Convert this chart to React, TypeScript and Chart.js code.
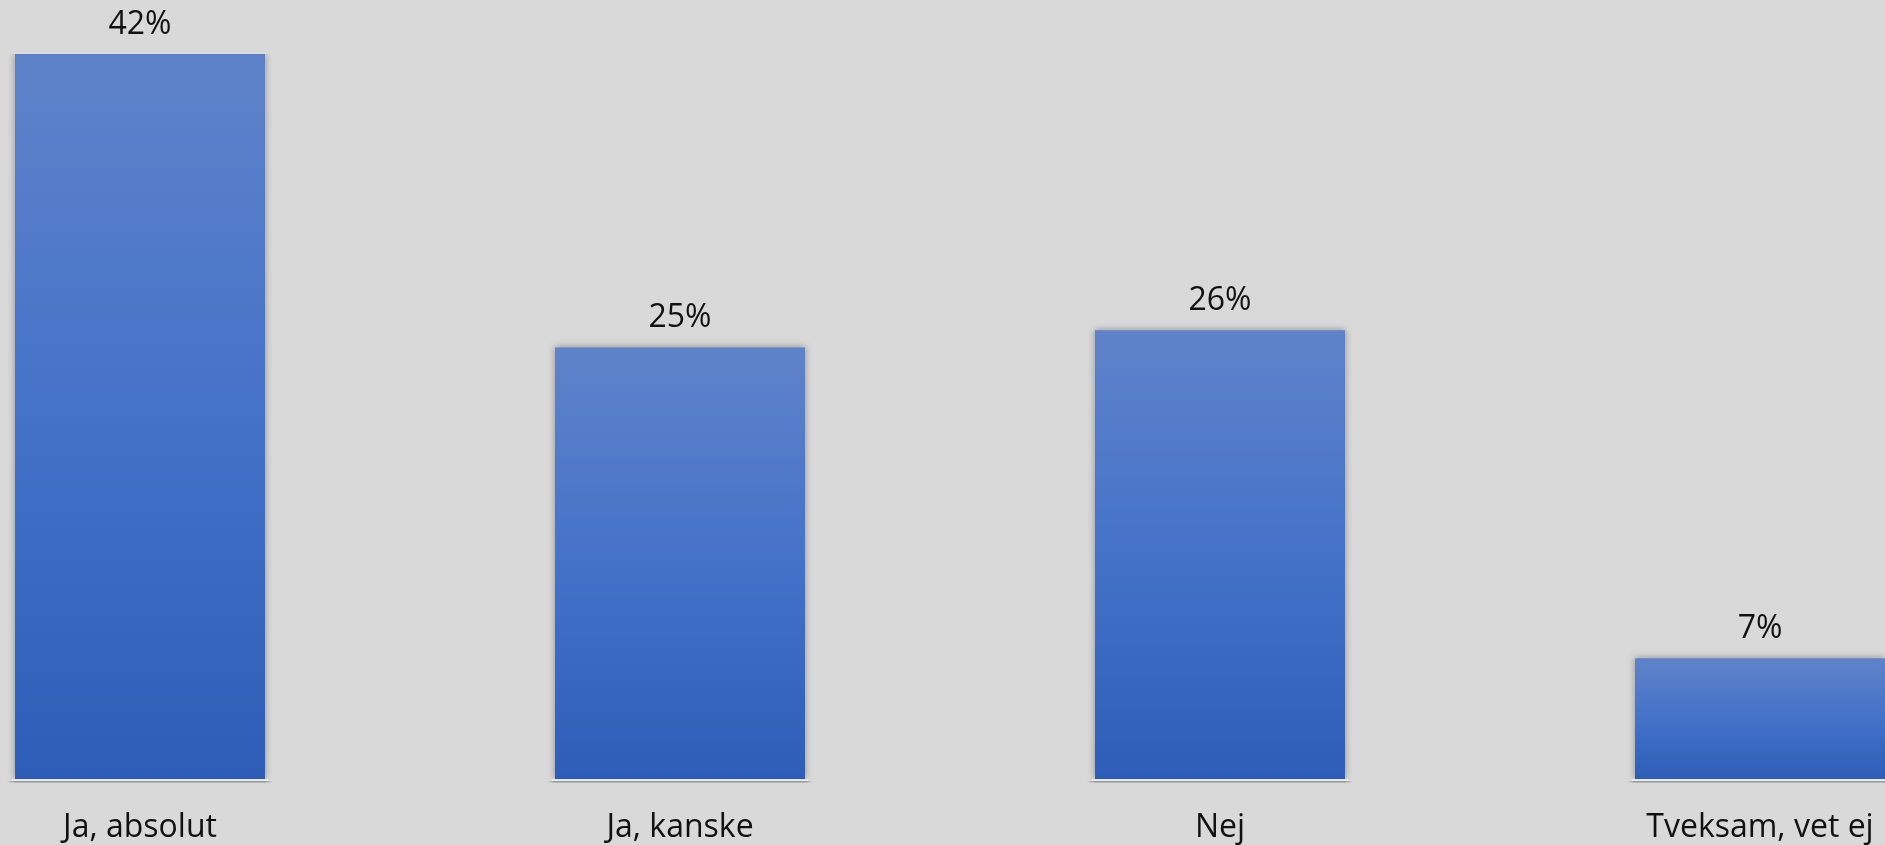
import React, { useEffect, useRef } from "react";
import { Chart, registerables } from "chart.js";

Chart.register(...registerables);

const categories = ["Ja, absolut", "Ja, kanske", "Nej", "Tveksam, vet ej"];
const values = [42, 25, 26, 7];
const valueLabels = ["42%", "25%", "26%", "7%"];

const FONT = "'Open Sans', 'Noto Sans', sans-serif";

const barDecor = {
  id: "barDecor",
  beforeDatasetDraw(chart: any) {
    const ctx = chart.ctx;
    ctx.save();
    ctx.shadowColor = "rgba(0,0,0,0.35)";
    ctx.shadowBlur = 7;
    ctx.shadowOffsetX = 0;
    ctx.shadowOffsetY = 0;
  },
  afterDatasetDraw(chart: any) {
    chart.ctx.restore();
  },
  afterDatasetsDraw(chart: any) {
    const ctx = chart.ctx;
    const meta = chart.getDatasetMeta(0);
    ctx.save();
    meta.data.forEach((bar: any, i: number) => {
      const left = bar.x - bar.width / 2;
      const right = bar.x + bar.width / 2;
      ctx.fillStyle = "rgba(240,240,240,0.9)";
      ctx.fillRect(left - 3, bar.base + 0.5, right - left + 6, 1.5);
      const g = ctx.createLinearGradient(left - 8, 0, right + 8, 0);
      g.addColorStop(0, "rgba(150,150,150,0)");
      g.addColorStop(0.03, "rgba(150,150,150,1)");
      g.addColorStop(0.97, "rgba(150,150,150,1)");
      g.addColorStop(1, "rgba(150,150,150,0)");
      ctx.fillStyle = g;
      ctx.fillRect(left - 8, bar.base + 2, right - left + 16, 1.5);
      ctx.fillStyle = "#111111";
      ctx.font = `32px ${FONT}`;
      ctx.textAlign = "center";
      ctx.textBaseline = "alphabetic";
      ctx.fillText(valueLabels[i], bar.x, bar.y - 20);
    });
    ctx.restore();
  },
};

export default function App() {
  const ref = useRef<HTMLCanvasElement | null>(null);

  useEffect(() => {
    if (!ref.current) return;
    const chart = new Chart(ref.current, {
      type: "bar",
      data: {
        labels: categories,
        datasets: [
          {
            data: values,
            backgroundColor: (c: any) => {
              const chartObj = c.chart;
              const ys = chartObj.scales?.y;
              if (!ys || c.parsed == null) return "#4472c4";
              const top = ys.getPixelForValue(c.parsed.y);
              const base = ys.getPixelForValue(0);
              if (!isFinite(top) || !isFinite(base) || top === base) return "#4472c4";
              const g = chartObj.ctx.createLinearGradient(0, top, 0, base);
              g.addColorStop(0, "#5f83c9");
              g.addColorStop(0.5, "#4472c9");
              g.addColorStop(1, "#2d5db6");
              return g;
            },
            borderWidth: 0,
            barPercentage: 250 / 540,
            categoryPercentage: 1,
          },
        ],
      },
      options: {
        responsive: false,
        maintainAspectRatio: false,
        animation: false,
        layout: { padding: { top: 54, bottom: 0, left: 0, right: 0 } },
        plugins: {
          legend: { display: false },
          tooltip: { enabled: false },
        },
        scales: {
          x: {
            grid: { display: false, drawTicks: false },
            border: { display: false },
            afterFit: (scale: any) => {
              scale.height = 66;
            },
            ticks: {
              color: "#111111",
              font: { family: FONT, size: 32 },
              padding: 30,
              maxRotation: 0,
              autoSkip: false,
            },
          },
          y: {
            display: false,
            min: 0,
            max: 42,
          },
        },
      },
      plugins: [barDecor],
    });
    return () => chart.destroy();
  }, []);

  return (
    <div
      style={{
        position: "fixed",
        left: 0,
        top: 0,
        width: 1885,
        height: 845,
        overflow: "hidden",
        background: "#d9d9d9",
      }}
    >
      <canvas
        ref={ref}
        width={2160}
        height={845}
        style={{ position: "absolute", left: -130, top: 0, width: 2160, height: 845 }}
      />
    </div>
  );
}
